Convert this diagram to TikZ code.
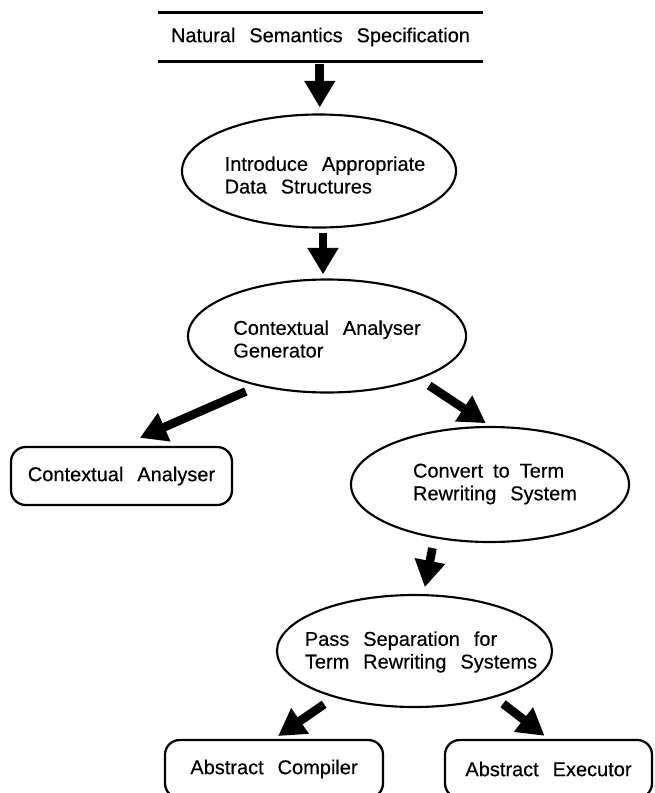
\documentclass[tikz,border=0pt]{standalone}
\usepackage{fontspec}
\setmainfont{Liberation Sans}[WordSpace=2.5,FakeBold=0.35]
\usetikzlibrary{arrows.meta,shapes.geometric,calc}

\begin{document}
\begin{tikzpicture}[x=0.75pt,y=-0.75pt,
  ellip/.style={draw,ellipse,line width=1.6pt,inner sep=0pt},
  boxnode/.style={draw,rounded corners=11pt,line width=1.7pt,inner sep=0pt,
    minimum height=43.5pt,font=\fontsize{15pt}{17pt}\selectfont},
  lbl/.style={align=left,inner sep=0pt,font=\fontsize{15pt}{17pt}\selectfont},
  rule/.style={line width=2.4pt},
  bigarrow/.style={line width=6.5pt,-{Triangle[length=20pt,width=22pt]}},
]
\useasboundingbox (0,0) rectangle (655,793);

% specification heading between two rules
\node[lbl,minimum width=243.75pt,minimum height=36pt] (spec) at (320.5,37)
  {Natural Semantics Specification};
\draw[rule] (spec.north west) -- (spec.north east);
\draw[rule] (spec.south west) -- (spec.south east);

% transformation steps
\node[ellip,minimum width=205.5pt,minimum height=84.75pt] (e1) at (319,171) {};
\node[lbl] (t1) at (325,175) {Introduce Appropriate\\Data Structures};

\node[ellip,minimum width=208.5pt,minimum height=84.75pt] (e2) at (327,336) {};
\node[lbl] (t2) at (327,339) {Contextual Analyser\\Generator};

\node[ellip,minimum width=208.5pt,minimum height=86.25pt] (e3) at (490,484.5) {};
\node[lbl] (t3) at (495,484) {Convert\hspace{7.5pt}to\hspace{7.5pt}Term\\Rewriting System};

\node[ellip,minimum width=206.25pt,minimum height=84pt] (e4) at (414.5,651) {};
\node[lbl] (t4) at (421,652) {Pass Separation for\\Term Rewriting Systems};

% generated tools
\node[boxnode,minimum width=165.75pt] (ca) at (121.5,476) {Contextual Analyser};
\node[boxnode,minimum width=163.5pt] (ac) at (274,769) {Abstract Compiler};
\node[boxnode,minimum width=155.25pt] (ae) at (548.5,769) {Abstract Executor};

% arrows
\coordinate (m01) at ($(spec.south)!.5!(e1.north)$);
\coordinate (m12) at ($(e1.south)!.5!(e2.north)$);
\draw[bigarrow,shorten <=2.25pt,shorten >=4.5pt] (m01 |- spec.south) -- (m01 |- e1.north);
\draw[bigarrow,shorten <=3pt,shorten >=3pt] (m12 |- e1.south) -- (m12 |- e2.north);
\draw[bigarrow,shorten <=10pt,shorten >=15pt] (e2.216) -- (ca.north);
\draw[bigarrow,shorten <=8.6pt,shorten >=3.75pt] (e2.335.5) -- (e3.north);
\draw[bigarrow,shorten <=7.5pt,shorten >=5.25pt] (e3.224) -- (e4.81);
\draw[bigarrow,shorten <=9pt,shorten >=3.75pt] (e4.210) -- (ac.north);
\draw[bigarrow,shorten <=7.7pt,shorten >=3.75pt] (e4.330) -- (ae.north);
\end{tikzpicture}
\end{document}
